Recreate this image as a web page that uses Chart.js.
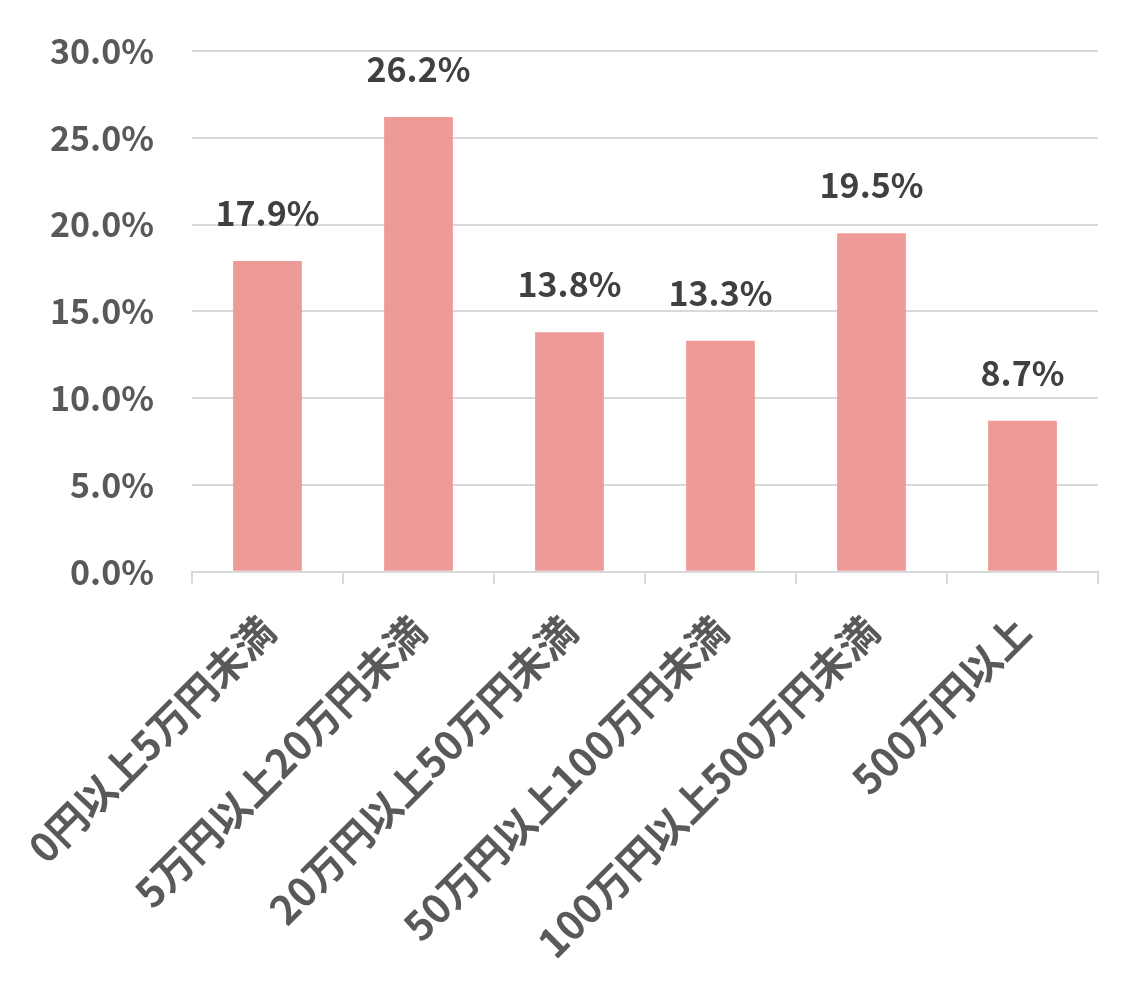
<!DOCTYPE html>
<html>
<head>
<meta charset="utf-8">
<script src="https://cdn.jsdelivr.net/npm/chart.js@4.4.0/dist/chart.umd.min.js"></script>
<style>
html,body{margin:0;padding:0;background:#fff;}
#wrap{width:1148px;height:999px;position:relative;}
</style>
</head>
<body>
<div id="wrap"><canvas id="c" width="1148" height="999"></canvas></div>
<script>
const categories = ["0円以上5万円未満","5万円以上20万円未満","20万円以上50万円未満","50万円以上100万円未満","100万円以上500万円未満","500万円以上"];
const values = [17.9, 26.2, 13.8, 13.3, 19.5, 8.7];
const yTicks = [0, 5, 10, 15, 20, 25, 30];

const FONT = "'Noto Sans CJK JP', 'Noto Sans', sans-serif";

const valueLabels = {
  id: 'valueLabels',
  afterDatasetsDraw(chart) {
    const ctx = chart.ctx;
    const meta = chart.getDatasetMeta(0);
    ctx.save();
    ctx.font = "bold 34px " + FONT;
    ctx.fillStyle = '#404040';
    ctx.textAlign = 'center';
    ctx.textBaseline = 'middle';
    meta.data.forEach((bar, i) => {
      ctx.fillText(values[i].toFixed(1) + '%', bar.x, bar.y - 48);
    });
    ctx.restore();
  }
};

new Chart(document.getElementById('c'), {
  type: 'bar',
  data: {
    labels: categories,
    datasets: [{
      data: values,
      backgroundColor: '#ED9A98',
      borderWidth: 0,
      barPercentage: 0.455,
      categoryPercentage: 1.0
    }]
  },
  options: {
    responsive: false,
    animation: false,
    layout: { padding: { top: 51, right: 50, bottom: 9, left: 12 } },
    plugins: { legend: { display: false }, tooltip: { enabled: false } },
    scales: {
      x: {
        offset: true,
        afterFit(scale) { scale.paddingLeft = 0; scale.paddingRight = 0; },
        grid: { display: true, drawOnChartArea: false, drawTicks: true, tickLength: 12, color: '#D9D9D9', lineWidth: 2, offset: true },
        border: { display: true, color: '#D9D9D9', width: 2 },
        ticks: {
          color: '#595959',
          font: { family: FONT, size: 40, weight: 'bold' },
          minRotation: 45, maxRotation: 45,
          padding: 23,
          autoSkip: false
        }
      },
      y: {
        min: 0, max: 30,
        afterBuildTicks(axis) { axis.ticks = yTicks.map(v => ({ value: v })); },
        afterFit(scale) { scale.paddingTop = 0; scale.paddingBottom = 0; },
        grid: { color: '#D9D9D9', lineWidth: 2, drawTicks: false },
        border: { display: false },
        ticks: {
          color: '#595959',
          font: { family: FONT, size: 34, weight: 'bold' },
          padding: 38,
          callback: v => Number(v).toFixed(1) + '%'
        }
      }
    }
  },
  plugins: [valueLabels]
});
</script>
</body>
</html>
